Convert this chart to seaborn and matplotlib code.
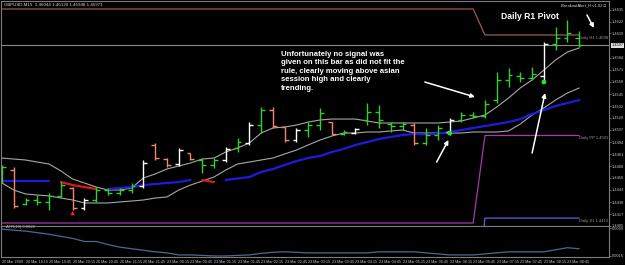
import numpy as np
import matplotlib
matplotlib.use("Agg")
import matplotlib.pyplot as plt
import seaborn as sns

# ---------------- data (GBPUSD M15) ----------------
bar_index = list(range(50))
opens = [1.44621, 1.44642, 1.44280, 1.44323, 1.44302, 1.44366, 1.44451, 1.44238, 1.44323, 1.44429,
         1.44397, 1.44429, 1.44472, 1.44909, 1.44759, 1.44706, 1.44823, 1.44749, 1.44695, 1.44749,
         1.44877, 1.44930, 1.45121, 1.45281, 1.45100, 1.44962, 1.45068, 1.45121, 1.45153, 1.45026,
         1.45036, 1.45175, 1.45260, 1.45132, 1.45111, 1.45121, 1.44930, 1.45015, 1.45047, 1.45175,
         1.45228, 1.45217, 1.45388, 1.45601, 1.45643, 1.45622, 1.45643, 1.45984, 1.46048, 1.46044]
highs = [1.44695, 1.44674, 1.44344, 1.44376, 1.44397, 1.44514, 1.44461, 1.44344, 1.44461, 1.44451,
         1.44451, 1.44504, 1.44749, 1.44930, 1.44770, 1.44877, 1.44823, 1.44770, 1.44770, 1.44887,
         1.44983, 1.45153, 1.45313, 1.45313, 1.45100, 1.45090, 1.45153, 1.45303, 1.45153, 1.45068,
         1.45090, 1.45356, 1.45335, 1.45153, 1.45153, 1.45143, 1.45090, 1.45121, 1.45196, 1.45260,
         1.45260, 1.45388, 1.45686, 1.45729, 1.45686, 1.45739, 1.46005, 1.46165, 1.46240, 1.46120]
lows = [1.44504, 1.44238, 1.44270, 1.44270, 1.44216, 1.44355, 1.44216, 1.44216, 1.44302, 1.44376,
        1.44376, 1.44397, 1.44451, 1.44749, 1.44674, 1.44685, 1.44749, 1.44610, 1.44664, 1.44727,
        1.44834, 1.44909, 1.45036, 1.45090, 1.44940, 1.44940, 1.44994, 1.45068, 1.45015, 1.45015,
        1.45026, 1.45121, 1.45090, 1.45047, 1.45068, 1.44909, 1.44909, 1.44962, 1.45015, 1.45153,
        1.45196, 1.45196, 1.45356, 1.45526, 1.45579, 1.45601, 1.45601, 1.45920, 1.46005, 1.45948]
closes = [1.44674, 1.44259, 1.44323, 1.44302, 1.44366, 1.44482, 1.44238, 1.44323, 1.44429, 1.44397,
          1.44429, 1.44472, 1.44717, 1.44770, 1.44695, 1.44855, 1.44759, 1.44695, 1.44749, 1.44866,
          1.44940, 1.45121, 1.45281, 1.45111, 1.44962, 1.45068, 1.45121, 1.45249, 1.45026, 1.45047,
          1.45079, 1.45260, 1.45175, 1.45111, 1.45132, 1.44930, 1.45015, 1.45090, 1.45175, 1.45228,
          1.45217, 1.45345, 1.45601, 1.45654, 1.45622, 1.45665, 1.45984, 1.46048, 1.46101, 1.45971]
# g = normal bar, s = bearish signal bar, w = bullish signal bar
bar_kind = ['g', 's', 'g', 'g', 'g', 'g', 's', 'w', 'g', 'g',
            'g', 'g', 'w', 's', 's', 'w', 's', 'g', 'g', 'w',
            'g', 'w', 'g', 's', 's', 'w', 'g', 'g', 's', 'g',
            'w', 'g', 'g', 'g', 'g', 's', 'g', 'g', 'w', 'g',
            'g', 'g', 'g', 'g', 'g', 'g', 'w', 'g', 'g', 'g']

upper_band = [1.44770, 1.44759, 1.44749, 1.44727, 1.44706, 1.44632, 1.44546, 1.44504, 1.44461, 1.44429,
              1.44429, 1.44451, 1.44557, 1.44600, 1.44653, 1.44685, 1.44717, 1.44759, 1.44770, 1.44834,
              1.44877, 1.44930, 1.45036, 1.45090, 1.45100, 1.45121, 1.45153, 1.45175, 1.45185, 1.45185,
              1.45185, 1.45164, 1.45143, 1.45143, 1.45143, 1.45143, 1.45143, 1.45143, 1.45153, 1.45164,
              1.45196, 1.45228, 1.45313, 1.45409, 1.45516, 1.45601, 1.45707, 1.45814, 1.45899, 1.45942]
lower_band = [1.44504, 1.44429, 1.44387, 1.44376, 1.44366, 1.44344, 1.44323, 1.44291, 1.44291, 1.44291,
              1.44302, 1.44312, 1.44323, 1.44344, 1.44355, 1.44429, 1.44482, 1.44525, 1.44568, 1.44642,
              1.44706, 1.44727, 1.44749, 1.44770, 1.44813, 1.44855, 1.44909, 1.44962, 1.45004, 1.45036,
              1.45036, 1.45047, 1.45047, 1.45058, 1.45068, 1.45036, 1.45036, 1.45036, 1.45036, 1.45036,
              1.45047, 1.45047, 1.45047, 1.45058, 1.45132, 1.45228, 1.45303, 1.45388, 1.45462, 1.45516]
N = np.nan
ma_rising = [1.44525, 1.44525, 1.44525, 1.44525, 1.44525, N, N, N, N, 1.44440,
             1.44451, 1.44461, 1.44482, 1.44493, 1.44504, 1.44514, 1.44536, N, N, 1.44536,
             1.44552, 1.44568, 1.44621, 1.44653, 1.44695, 1.44738, 1.44770, 1.44791, 1.44834, 1.44866,
             1.44909, 1.44940, 1.44972, 1.44994, 1.45015, 1.45026, 1.45020, 1.45030, 1.45047, 1.45068,
             1.45090, 1.45111, 1.45132, 1.45153, 1.45185, 1.45239, 1.45281, 1.45324, 1.45356, 1.45388]
ma_falling = [N, N, N, N, N, 1.44514, 1.44482, 1.44461, 1.44440, N,
              N, N, N, N, N, N, N, 1.44536, 1.44514, N,
              N, N, N, N, N, N, N, N, N, N,
              N, N, N, N, N, N, N, N, N, N,
              N, N, N, N, N, N, N, N, N, N]

pivot_x = [0, 40, 41, 49]
pivot_r1 = [1.46357, 1.46357, 1.46080, 1.46080]
pivot_pp = [1.44078, 1.44078, 1.45010, 1.45010]
pivot_s1 = [1.43000, 1.43000, 1.44130, 1.44130]

signal_up_bars = [38, 46]
signal_up_price = [1.45036, 1.45579]
signal_dn_bars = [6]
signal_dn_price = [1.44184]

atr = [0.00391, 0.00382, 0.00373, 0.00360, 0.00346, 0.00328, 0.00310, 0.00283, 0.00283, 0.00256,
       0.00234, 0.00220, 0.00207, 0.00193, 0.00184, 0.00166, 0.00166, 0.00162, 0.00157, 0.00157,
       0.00162, 0.00166, 0.00180, 0.00189, 0.00193, 0.00189, 0.00184, 0.00184, 0.00184, 0.00184,
       0.00184, 0.00184, 0.00193, 0.00193, 0.00193, 0.00193, 0.00184, 0.00175, 0.00166, 0.00166,
       0.00166, 0.00175, 0.00184, 0.00193, 0.00193, 0.00193, 0.00193, 0.00211, 0.00229, 0.00220]

time_labels = ["20 Mar 2009", "20 Mar 19:15", "20 Mar 19:45", "20 Mar 20:15", "20 Mar 20:45",
               "20 Mar 21:15", "20 Mar 21:45", "23 Mar 00:15", "23 Mar 00:45", "23 Mar 01:15",
               "23 Mar 01:45", "23 Mar 02:15", "23 Mar 02:45", "23 Mar 03:15", "23 Mar 03:45",
               "23 Mar 04:15", "23 Mar 04:45", "23 Mar 05:15", "23 Mar 05:45", "23 Mar 06:15",
               "23 Mar 06:45", "23 Mar 07:15", "23 Mar 07:45", "23 Mar 08:15", "23 Mar 08:45"]
time_label_bars = list(range(0, 50, 2))
price_ticks = [1.4635, 1.4622, 1.4610, 1.4584, 1.4571, 1.4558, 1.4545, 1.4532, 1.4520,
               1.4507, 1.4494, 1.4481, 1.4468, 1.4456, 1.4443, 1.4430, 1.4417, 1.4405]
last_price = 1.45971
atr_ticks = [0.0040, 0.0016]

# ---------------- style ----------------
sns.set_style("white", {"axes.facecolor": "black", "figure.facecolor": "black"})
plt.rcParams['font.family'] = ['Liberation Sans', 'DejaVu Sans']

GRID = '#7c7c7c'
TXT = '#c8c8c8'
kind_color = {'g': '#30d030', 's': '#f4866e', 'w': '#ffffff'}

fig = plt.figure(figsize=(6.25, 2.65), dpi=100, facecolor='black')
ax = fig.add_axes([1 / 625, (265 - 226) / 265, 608 / 625, 225 / 265])
ax2 = fig.add_axes([1 / 625, (265 - 257) / 265, 608 / 625, 31 / 265])

XMIN, XMAX = -0.085, 51.53
for a in (ax, ax2):
    a.set_facecolor('black')
    a.grid(False)
    for s in a.spines.values():
        s.set_color(GRID)
        s.set_linewidth(0.8)
    a.set_xlim(XMIN, XMAX)

ax.set_ylim(1.44046, 1.46442)
ax2.set_ylim(0.00148, 0.00418)

# pivot lines
sns.lineplot(x=pivot_x, y=pivot_r1, ax=ax, color='#9a5a4e', linewidth=0.9)
sns.lineplot(x=pivot_x, y=pivot_pp, ax=ax, color='#a83aa8', linewidth=0.9)
sns.lineplot(x=pivot_x, y=pivot_s1, ax=ax, color='#5b63d6', linewidth=0.9)
ax.axhline(last_price, color='#8a8a8a', linewidth=0.8)

# envelope bands
sns.lineplot(x=bar_index, y=upper_band, ax=ax, color='#a8a8a8', linewidth=0.8)
sns.lineplot(x=bar_index, y=lower_band, ax=ax, color='#a8a8a8', linewidth=0.8)


def runs(values):
    seg = []
    for i, v in enumerate(values):
        if np.isnan(v):
            if seg:
                yield seg
            seg = []
        else:
            seg.append(i)
    if seg:
        yield seg


for seg in runs(ma_rising):
    sns.lineplot(x=[bar_index[i] for i in seg], y=[ma_rising[i] for i in seg], ax=ax,
                 color='#1c1ce0', linewidth=1.6)
for seg in runs(ma_falling):
    sns.lineplot(x=[bar_index[i] for i in seg], y=[ma_falling[i] for i in seg], ax=ax,
                 color='#e01818', linewidth=1.6)

# OHLC bars
cols = [kind_color[k] for k in bar_kind]
bi = np.array(bar_index, dtype=float)
ax.vlines(bi, lows, highs, colors=cols, linewidth=1.0)
ax.hlines(opens, bi - 0.33, bi, colors=cols, linewidth=1.0)
ax.hlines(closes, bi, bi + 0.33, colors=cols, linewidth=1.0)

sns.scatterplot(x=signal_up_bars, y=signal_up_price, ax=ax, color='#30e030', s=12,
                edgecolor='none', zorder=5)
sns.scatterplot(x=signal_dn_bars, y=signal_dn_price, ax=ax, color='#ff2020', s=10,
                marker='^', edgecolor='none', zorder=5)

# pivot labels
for lvl, name in [(1.46080, 'Daily R1 1.4608'), (1.45010, 'Daily PP 1.4501'),
                  (1.44130, 'Daily S1 1.4413')]:
    ax.text(51.45, lvl - 0.00028, name, fontsize=3.0, color='#9a9a9a', ha='right', va='center')

# annotations
ax.text(23.7, 1.45910,
        "Unfortunately no signal was\ngiven on this bar as did not fit the\n"
        "rule, clearly moving above asian\nsession high and clearly\ntrending.",
        fontsize=5.6, fontweight='bold', color='white', ha='left', va='top', linespacing=1.3)
ax.text(42.4, 1.46272, "Daily R1 Pivot", fontsize=6.2, fontweight='bold', color='white',
        ha='left', va='center')
arrow = dict(arrowstyle='-|>', color='white', lw=1.1, mutation_scale=6, shrinkA=0, shrinkB=0)
ax.annotate("", xy=(40.15, 1.45420), xytext=(35.9, 1.45579), arrowprops=arrow)
ax.annotate("", xy=(37.9, 1.44962), xytext=(36.9, 1.44727), arrowprops=arrow)
ax.annotate("", xy=(46.1, 1.45462), xytext=(45.0, 1.44823), arrowprops=arrow)
ax.annotate("", xy=(50.25, 1.46155), xytext=(49.66, 1.46293), arrowprops=arrow)

# main axis ticks
ax.set_xticks([])
ax.set_xlabel('')
ax.set_ylabel('')
ax.yaxis.tick_right()
ax.set_yticks(price_ticks)
ax.set_yticklabels([f"{v:.4f}" for v in price_ticks])
ax.tick_params(axis='y', length=1.5, width=0.6, color=GRID, labelsize=2.8, labelcolor=TXT, pad=0.5)
ax.text(1.004, last_price, f"{last_price:.4f}", transform=ax.get_yaxis_transform(),
        fontsize=2.8, color='black', ha='left', va='center',
        bbox=dict(boxstyle='square,pad=0.15', facecolor='#e0e0e0', edgecolor='none'))

fig.text(4 / 625, 1 - 3 / 265, "GBPUSD,M15  1.46044 1.46120 1.45948 1.45971", fontsize=3.2,
         color='#d8d8d8', ha='left', va='top')
fig.text(606 / 625, 1 - 3 / 265, "BreakoutAlert_H v1.02 \u25a1", fontsize=3.0,
         color='#d8d8d8', ha='right', va='top')

# ATR panel
sns.lineplot(x=bar_index, y=atr, ax=ax2, color='#4a6a92', linewidth=0.9)
ax2.set_xlabel('')
ax2.set_ylabel('')
ax2.yaxis.tick_right()
ax2.set_yticks(atr_ticks)
ax2.set_yticklabels(["0.0040", "0.0016"])
ax2.tick_params(axis='y', length=1.5, width=0.6, color=GRID, labelsize=2.8, labelcolor=TXT, pad=0.5)
ax2.set_xticks(time_label_bars)
ax2.set_xticklabels(time_labels)
ax2.tick_params(axis='x', length=1.5, width=0.5, color=GRID, labelsize=2.7, labelcolor=TXT, pad=0.8)
for lab in ax2.get_xticklabels():
    lab.set_horizontalalignment('left')
ax2.text(0.3, 0.00405, "ATR(10) 0.0022", fontsize=3.0, color='#b0b0b0', ha='left', va='center')

fig.savefig("out.png", dpi=100, facecolor='black')
